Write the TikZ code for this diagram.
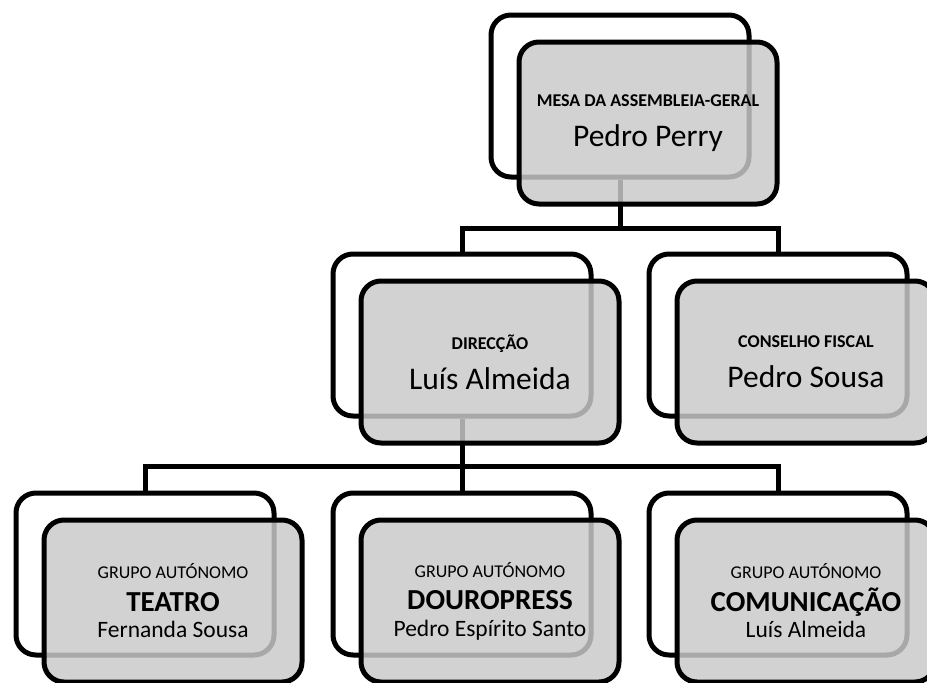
\documentclass[tikz,border=0pt]{standalone}
\usepackage{fontspec}
\setmainfont{Carlito}
\usetikzlibrary{positioning}
\definecolor{boxgray}{gray}{0.79}
\begin{document}
\begin{tikzpicture}[x=1pt, y=1pt, node distance=316pt, auto]
        % Define block styles
        \tikzstyle{backbox} = [rectangle, draw, line width=5pt, rounded corners=20pt, minimum width=258pt, minimum height=162pt, inner sep=0pt]
        \tikzstyle{frontbox} = [backbox, fill=boxgray, fill opacity=0.84, text opacity=1, align=center, xshift=28pt, yshift=-27pt]
        \tikzstyle{line} = [draw, line width=5pt]
        \tikzstyle{headfont} = [font=\fontsize{31.5}{40}\selectfont]
        \tikzstyle{groupfont} = [font=\fontsize{23.5}{26.5}\selectfont]

        \useasboundingbox (0,0) rectangle (927,-683);

        % Place back boxes
        \node [backbox] (mesa) at (620,-96) {};
        \node [backbox] (direccao) at (462,-335) {};
        \node [backbox, right of=direccao] (conselho) {};
        \node [backbox, below of=direccao, node distance=239pt] (douro) {};
        \node [backbox, left of=douro, node distance=317pt] (teatro) {};
        \node [backbox, right of=douro] (comunic) {};

        % Connectors
        \coordinate [below of=mesa, node distance=132pt] (topbar);
        \coordinate [below of=direccao, node distance=131pt] (midbar);
        \path [line] (mesa.south) -- (topbar);
        \path [line] (direccao.north) |- (topbar) -| (conselho.north);
        \path [line] (direccao.south) -- (midbar);
        \path [line] (teatro.north) |- (midbar) -| (comunic.north);
        \path [line] (douro.north) -- (midbar);

        % Place front boxes
        \node [frontbox, headfont] (mesaf) at (mesa) {{\fontsize{18}{40}\selectfont\bfseries MESA DA ASSEMBLEIA-GERAL}\\Pedro Perry};
        \node [frontbox, headfont] (direccaof) at (direccao) {{\fontsize{18}{40}\selectfont\bfseries DIRECÇÃO}\\Luís Almeida};
        \node [frontbox, headfont] (conselhof) at (conselho) {{\fontsize{18}{40}\selectfont\bfseries CONSELHO FISCAL}\\Pedro Sousa};
        \node [frontbox, groupfont] (teatrof) at (teatro) {{\fontsize{18}{26.5}\selectfont GRUPO AUTÓNOMO}\\[6pt]{\fontsize{29}{26.5}\selectfont\bfseries TEATRO}\\Fernanda Sousa};
        \node [frontbox, groupfont] (dourof) at (douro) {{\fontsize{18}{26.5}\selectfont GRUPO AUTÓNOMO}\\[6pt]{\fontsize{29}{26.5}\selectfont\bfseries DOUROPRESS}\\Pedro Espírito Santo};
        \node [frontbox, groupfont] (comunicf) at (comunic) {{\fontsize{18}{26.5}\selectfont GRUPO AUTÓNOMO}\\[6pt]{\fontsize{29}{26.5}\selectfont\bfseries COMUNICAÇÃO}\\Luís Almeida};
\end{tikzpicture}
\end{document}
